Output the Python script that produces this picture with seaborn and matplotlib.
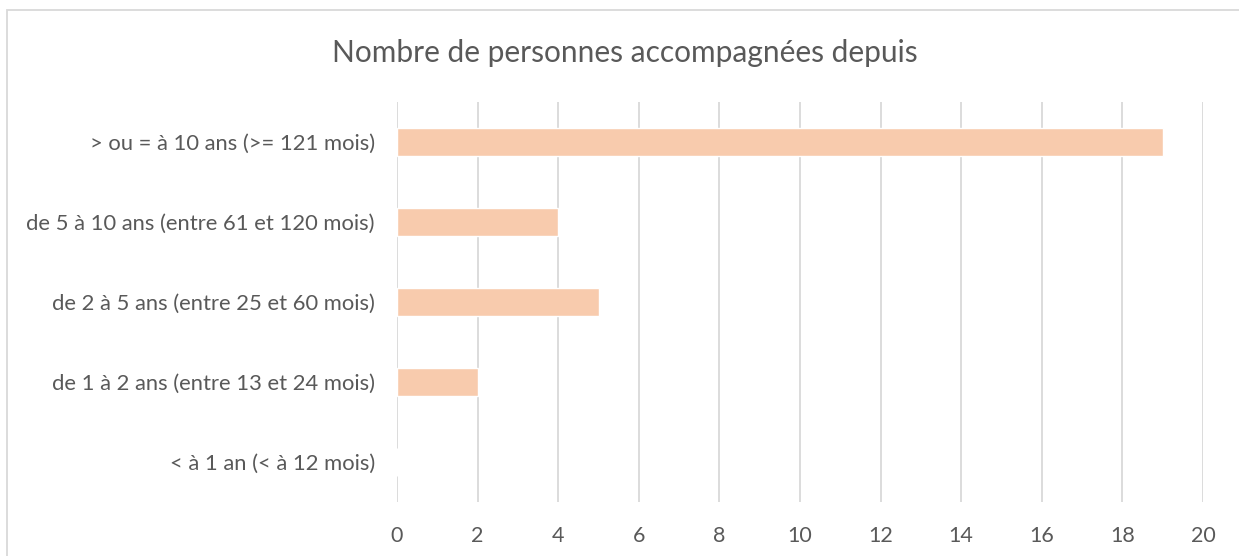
import matplotlib
matplotlib.use("Agg")
import matplotlib.pyplot as plt
import seaborn as sns
import pandas as pd
from matplotlib.patches import Rectangle

categories = [
    "> ou = à 10 ans (>= 121 mois)",
    "de 5 à 10 ans (entre 61 et 120 mois)",
    "de 2 à 5 ans (entre 25 et 60 mois)",
    "de 1 à 2 ans (entre 13 et 24 mois)",
    "< à 1 an (< à 12 mois)",
]
values = [19, 4, 5, 2, 0]
title = "Nombre de personnes accompagnées depuis"
xticks = list(range(0, 21, 2))

sns.set_theme(style="white")
plt.rcParams["font.family"] = ["Lato", "DejaVu Sans"]

df = pd.DataFrame({"cat": categories, "val": values})

fig = plt.figure(figsize=(12.39, 5.56), dpi=100)
ax = fig.add_axes([397 / 1239, 54 / 556, (1203 - 397) / 1239, (502 - 102) / 556])

sns.barplot(data=df, x="val", y="cat", order=categories, color="#F8CBAD",
            width=0.35, saturation=1, ax=ax, zorder=3)

ax.set_xlim(0, 20)
ax.set_xticks(xticks)
ax.set_xticklabels([str(t) for t in xticks])
ax.set_xlabel("")
ax.set_ylabel("")
ax.grid(axis="x", color="#D9D9D9", linewidth=1.3, zorder=0)
ax.grid(axis="y", visible=False)
for s in ax.spines.values():
    s.set_visible(False)
ax.tick_params(axis="x", length=0, pad=17, labelsize=15.5, labelcolor="#595959")
ax.tick_params(axis="y", length=0, pad=16, labelsize=15.8, labelcolor="#595959")

fig.text(625 / 1239, 1 - 53 / 556, title, ha="center", va="center",
         fontsize=21.5, color="#595959")

fig.patches.append(Rectangle((7 / 1239, -0.1), 1.2, 1 - 10 / 556 + 0.1,
                             transform=fig.transFigure, fill=False,
                             edgecolor="#D9D9D9", linewidth=1.3))

fig.savefig("out.png", dpi=100, facecolor="white")
